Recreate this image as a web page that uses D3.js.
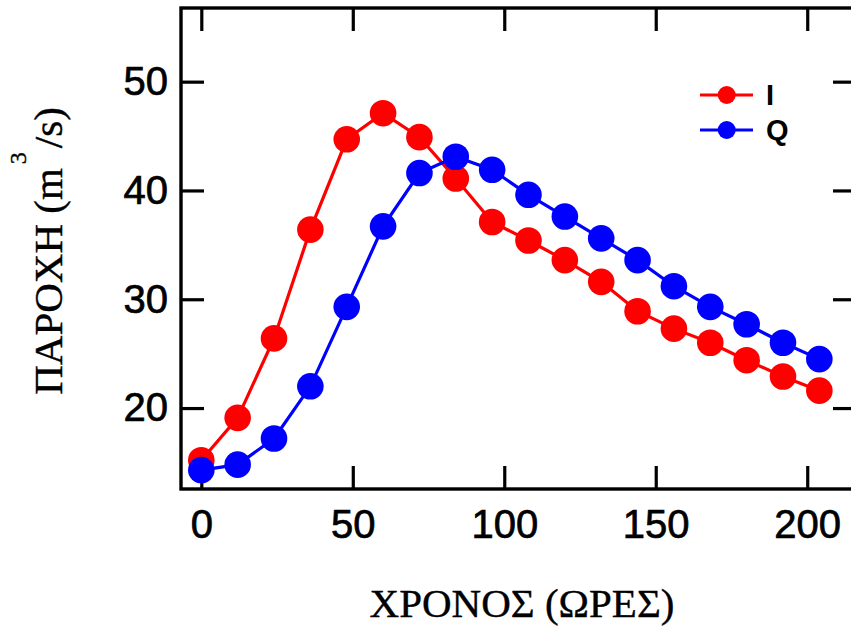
<!DOCTYPE html>
<html>
<head>
<meta charset="utf-8">
<script src="https://cdn.jsdelivr.net/npm/d3@7"></script>
<style>
body{margin:0;background:#fff;}
</style>
</head>
<body>
<div id="content"></div>
<script>
// data
var hours = [0,12,24,36,48,60,72,84,96,108,120,132,144,156,168,180,192,204];
var inflowI = [15.2,19.1,26.4,36.4,44.7,47.1,44.9,41.1,37.1,35.4,33.6,31.6,28.9,27.3,26.0,24.4,22.9,21.6];
var outflowQ = [14.3,14.8,17.2,22.0,29.3,36.7,41.6,43.1,41.9,39.6,37.6,35.6,33.6,31.2,29.3,27.7,26.0,24.5];
var xTicks = [0,50,100,150,200];
var yTicks = [20,30,40,50];
var seriesNames = ["I","Q"];
var seriesColors = ["#ff0000","#0000ff"];

var width = 851, height = 626;
var left = 181, top_ = 8, right = 856, bottom = 489;
var tickLen = 23;

var svg = d3.select("#content").append("svg")
    .attr("width", width)
    .attr("height", height);

var x = d3.scaleLinear().domain([-6.7, 216.1]).range([left, right]);
var y = d3.scaleLinear().domain([12.56, 56.77]).range([bottom, top_]);

// axes, ticks pointing inward
var gb = svg.append("g").attr("transform", "translate(0," + bottom + ")")
    .call(d3.axisBottom(x).tickValues(xTicks).tickSize(-tickLen).tickPadding(21));
var gt = svg.append("g").attr("transform", "translate(0," + top_ + ")")
    .call(d3.axisTop(x).tickValues(xTicks).tickSize(-tickLen).tickFormat(""));
var gl = svg.append("g").attr("transform", "translate(" + left + ",0)")
    .call(d3.axisLeft(y).tickValues(yTicks).tickSize(-tickLen).tickPadding(13));
var gr = svg.append("g").attr("transform", "translate(" + right + ",0)")
    .call(d3.axisRight(y).tickValues(yTicks).tickSize(-tickLen).tickFormat(""));

[gb, gt, gl, gr].forEach(function(g){
  g.select(".domain").remove();
  g.selectAll(".tick line").attr("stroke", "#000").attr("stroke-width", 3.2);
  g.selectAll(".tick text")
    .attr("font-family", "'Liberation Sans', Arial, sans-serif")
    .attr("font-size", 40)
    .attr("fill", "#000")
    .attr("stroke", "#000")
    .attr("stroke-width", 0.7);
});

svg.append("rect")
    .attr("x", left).attr("y", top_)
    .attr("width", right - left).attr("height", bottom - top_)
    .attr("fill", "none").attr("stroke", "#000").attr("stroke-width", 3.4);

// series
var allSeries = [inflowI, outflowQ];
var line = d3.line()
    .x(function(d,i){ return x(hours[i]); })
    .y(function(d){ return y(d); });

allSeries.forEach(function(vals, k){
  svg.append("path")
    .datum(vals)
    .attr("d", line)
    .attr("fill", "none")
    .attr("stroke", seriesColors[k])
    .attr("stroke-width", 3.2);
  svg.selectAll(".pt" + k)
    .data(vals)
    .enter()
    .append("circle")
    .attr("class", "pt" + k)
    .attr("cx", function(d,i){ return x(hours[i]); })
    .attr("cy", function(d){ return y(d); })
    .attr("r", 13.3)
    .attr("fill", seriesColors[k]);
});

// legend
var legend = svg.append("g").attr("transform", "translate(700,95)");
seriesNames.forEach(function(name, k){
  var g = legend.append("g").attr("transform", "translate(0," + (k*35) + ")");
  g.append("line").attr("x1", 0).attr("x2", 53).attr("y1", 0).attr("y2", 0)
    .attr("stroke", seriesColors[k]).attr("stroke-width", 3.2);
  g.append("circle").attr("cx", 26.7).attr("cy", 0).attr("r", 9)
    .attr("fill", seriesColors[k]);
  g.append("text").attr("x", 66).attr("y", 10)
    .attr("font-family", "'Liberation Sans', Arial, sans-serif")
    .attr("font-weight", "bold")
    .attr("font-size", 29)
    .text(name);
});

// axis titles
svg.append("text")
    .attr("x", 522).attr("y", 617)
    .attr("text-anchor", "middle")
    .attr("font-family", "'Liberation Serif', 'Times New Roman', serif")
    .attr("font-size", 41)
    .attr("stroke", "#000").attr("stroke-width", 0.4)
    .text("ΧΡΟΝΟΣ (ΩΡΕΣ)");

var yt = svg.append("text")
    .attr("transform", "translate(62,251) rotate(-90)")
    .attr("text-anchor", "middle")
    .attr("font-family", "'Liberation Serif', 'Times New Roman', serif")
    .attr("font-size", 41)
    .attr("stroke", "#000").attr("stroke-width", 0.4);
yt.append("tspan").text("ΠΑΡΟΧΗ (m");
yt.append("tspan").attr("dy", -36).attr("dx", 4).attr("font-size", 24).text("3");
yt.append("tspan").attr("dy", 36).attr("dx", 4).text("/s)");
</script>
</body>
</html>
